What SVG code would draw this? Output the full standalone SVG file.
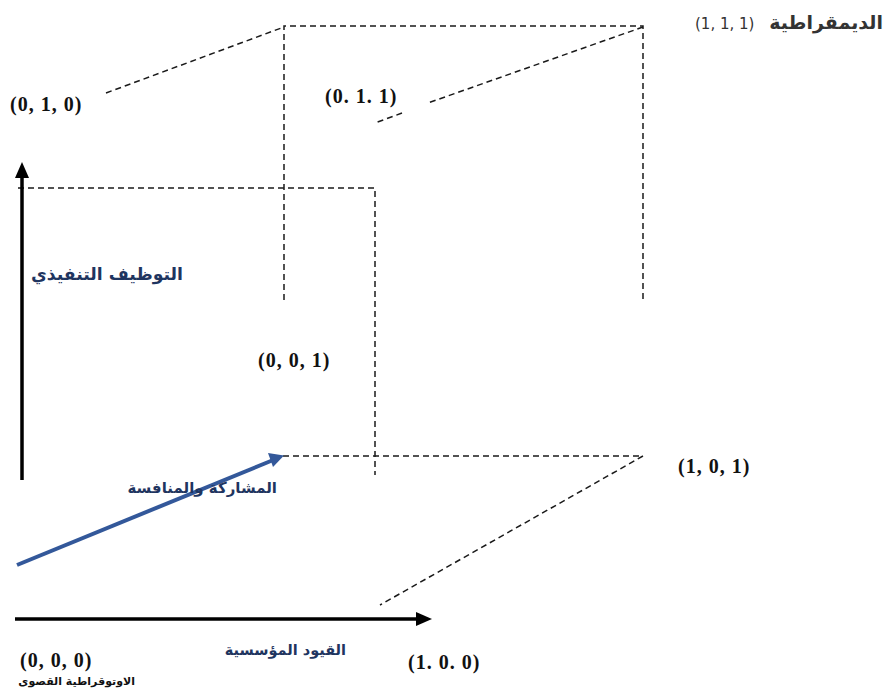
<svg xmlns="http://www.w3.org/2000/svg" width="885" height="693" viewBox="0 0 885 693">
<style>
.d{fill:none;stroke:#1a1a1a;stroke-width:1.5;stroke-dasharray:6 4}
.c{font-family:"Liberation Serif","Times New Roman",serif;font-weight:bold;font-size:20px;letter-spacing:1px;fill:#111}
.a{font-family:"DejaVu Sans","Noto Sans",sans-serif;font-weight:bold;fill:#1f3560}
.s{font-family:"DejaVu Sans","Noto Sans",sans-serif;fill:#333}
</style>
<rect width="885" height="693" fill="#fff"/>
<g id="connectors">
<path class="d" d="M284,300 V26 H643 V300"/>
<path class="d" d="M106,93 L284,27"/>
<path class="d" d="M643,27 L428,103"/>
<path class="d" d="M402,113 L375,123"/>
<path class="d" d="M18,188 H375 V475"/>
<path class="d" d="M283,456 H643 L380,605"/>
<g id="axis-y"><line x1="22" y1="480" x2="22" y2="176" stroke="#000" stroke-width="3.5"/><path d="M15,178 L22,162 L29,178 z" fill="#000"/></g>
<g id="axis-x"><line x1="15" y1="619" x2="418" y2="619" stroke="#000" stroke-width="3.5"/><path d="M416,612 L432,619 L416,626 z" fill="#000"/></g>
<g id="axis-z"><line x1="17" y1="565" x2="272" y2="460.5" stroke="#33589a" stroke-width="4"/><path d="M268,453 L284,455.5 L273,467 z" fill="#33589a"/></g>
</g>
<g id="n111">
<text class="s" x="883" y="29" text-anchor="end" style="font-size:19px;font-weight:bold">الديمقراطية</text>
<text class="s" x="695" y="29" style="font-size:15px">(1, 1, 1)</text>
</g>
<g id="n010"><text class="c" x="10" y="111">(0, 1, 0)</text></g>
<g id="n011"><text class="c" x="325" y="103">(0. 1. 1)</text></g>
<g id="n001"><text class="c" x="258" y="367">(0, 0, 1)</text></g>
<g id="n101"><text class="c" x="678" y="473">(1, 0, 1)</text></g>
<g id="n000"><text class="c" x="20" y="667">(0, 0, 0)</text></g>
<g id="n100"><text class="c" x="408" y="669">(1. 0. 0)</text></g>
<g id="ly"><text class="a" x="183" y="280" text-anchor="end" style="font-size:17.3px">التوظيف التنفيذي</text></g>
<g id="lz"><text class="a" x="277" y="493" text-anchor="end" style="font-size:15px">المشاركة والمنافسة</text></g>
<g id="lx"><text class="a" x="346" y="655" text-anchor="end" style="font-size:14.5px">القيود المؤسسية</text></g>
<g id="l000"><text x="135" y="685" text-anchor="end" style="font-family:'DejaVu Sans','Noto Sans',sans-serif;font-weight:bold;font-size:11px;fill:#111">الاوتوقراطية القصوى</text></g>
</svg>
